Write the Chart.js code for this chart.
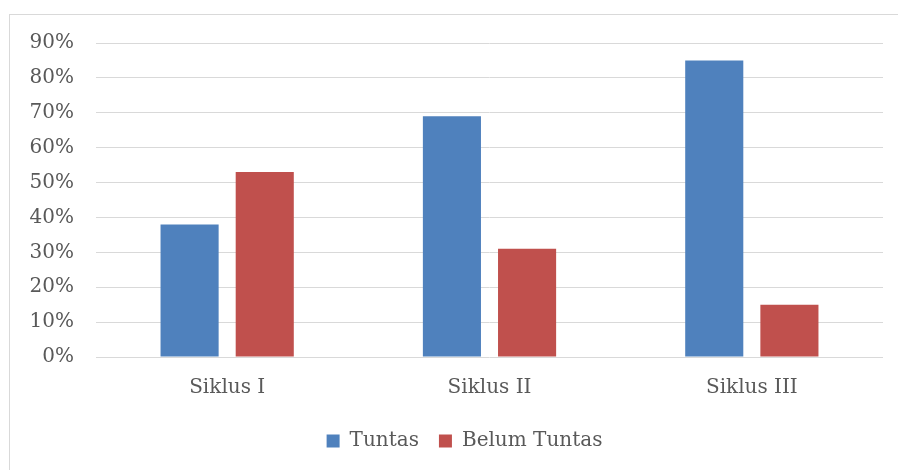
<!DOCTYPE html>
<html>
<head>
<meta charset="utf-8">
<script src="https://cdn.jsdelivr.net/npm/chart.js@4.4.0/dist/chart.umd.min.js"></script>
<style>
  html, body { margin: 0; padding: 0; background: #fff; overflow: hidden; }
  #frame {
    position: absolute; left: 9px; top: 14px;
    width: 900px; height: 470px;
    border: 1px solid #d9d9d9; box-sizing: border-box;
    pointer-events: none;
  }
  #wrap {
    position: absolute; left: 10px; top: 9px;
    width: 898px; height: 476px;
  }
</style>
</head>
<body>
<div id="wrap"><canvas id="chart"></canvas></div>
<div id="frame"></div>
<script>
const categories = ["Siklus I", "Siklus II", "Siklus III"];
const tuntas = [38, 69, 85];
const belumTuntas = [53, 31, 15];
const yTicks = [0, 10, 20, 30, 40, 50, 60, 70, 80, 90];

const textColor = "#595959";
const serif = "'DejaVu Serif', serif";

// nudge legend to the right, like the original
const legendShift = {
    id: "legendShift",
    beforeDraw(chart) {
        chart.legend.left += 18;
        chart.legend.right += 18;
    }
};

const ctx = document.getElementById("chart").getContext("2d");
const chart = new Chart(ctx, {
    type: "bar",
    data: {
        labels: categories,
        datasets: [
            { label: "Tuntas", data: tuntas, backgroundColor: "#4f81bd" },
            { label: "Belum Tuntas", data: belumTuntas, backgroundColor: "#c0504d" }
        ]
    },
    plugins: [legendShift],
    options: {
        responsive: true,
        maintainAspectRatio: false,
        animation: false,
        categoryPercentage: 0.573,
        barPercentage: 0.773,
        layout: { padding: { left: 0, right: 25, top: 11, bottom: 24 } },
        plugins: {
            tooltip: { enabled: false },
            legend: {
                position: "bottom",
                labels: {
                    color: textColor,
                    font: { family: serif, size: 20 },
                    boxWidth: 13, boxHeight: 13,
                    padding: 20
                }
            }
        },
        scales: {
            x: {
                grid: { display: false },
                border: { display: false },
                ticks: { color: textColor, font: { family: serif, size: 20 }, padding: 11 }
            },
            y: {
                min: 0, max: 90,
                afterFit: (scale) => { scale.width = 86; },
                afterBuildTicks: (scale) => { scale.ticks = yTicks.map(v => ({ value: v })); },
                grid: { color: "#d9d9d9", lineWidth: 1, drawTicks: false },
                border: { display: false },
                ticks: {
                    color: textColor, font: { family: serif, size: 20 }, padding: 22,
                    callback: (v) => v + "%"
                }
            }
        }
    }
});
</script>
</body>
</html>
